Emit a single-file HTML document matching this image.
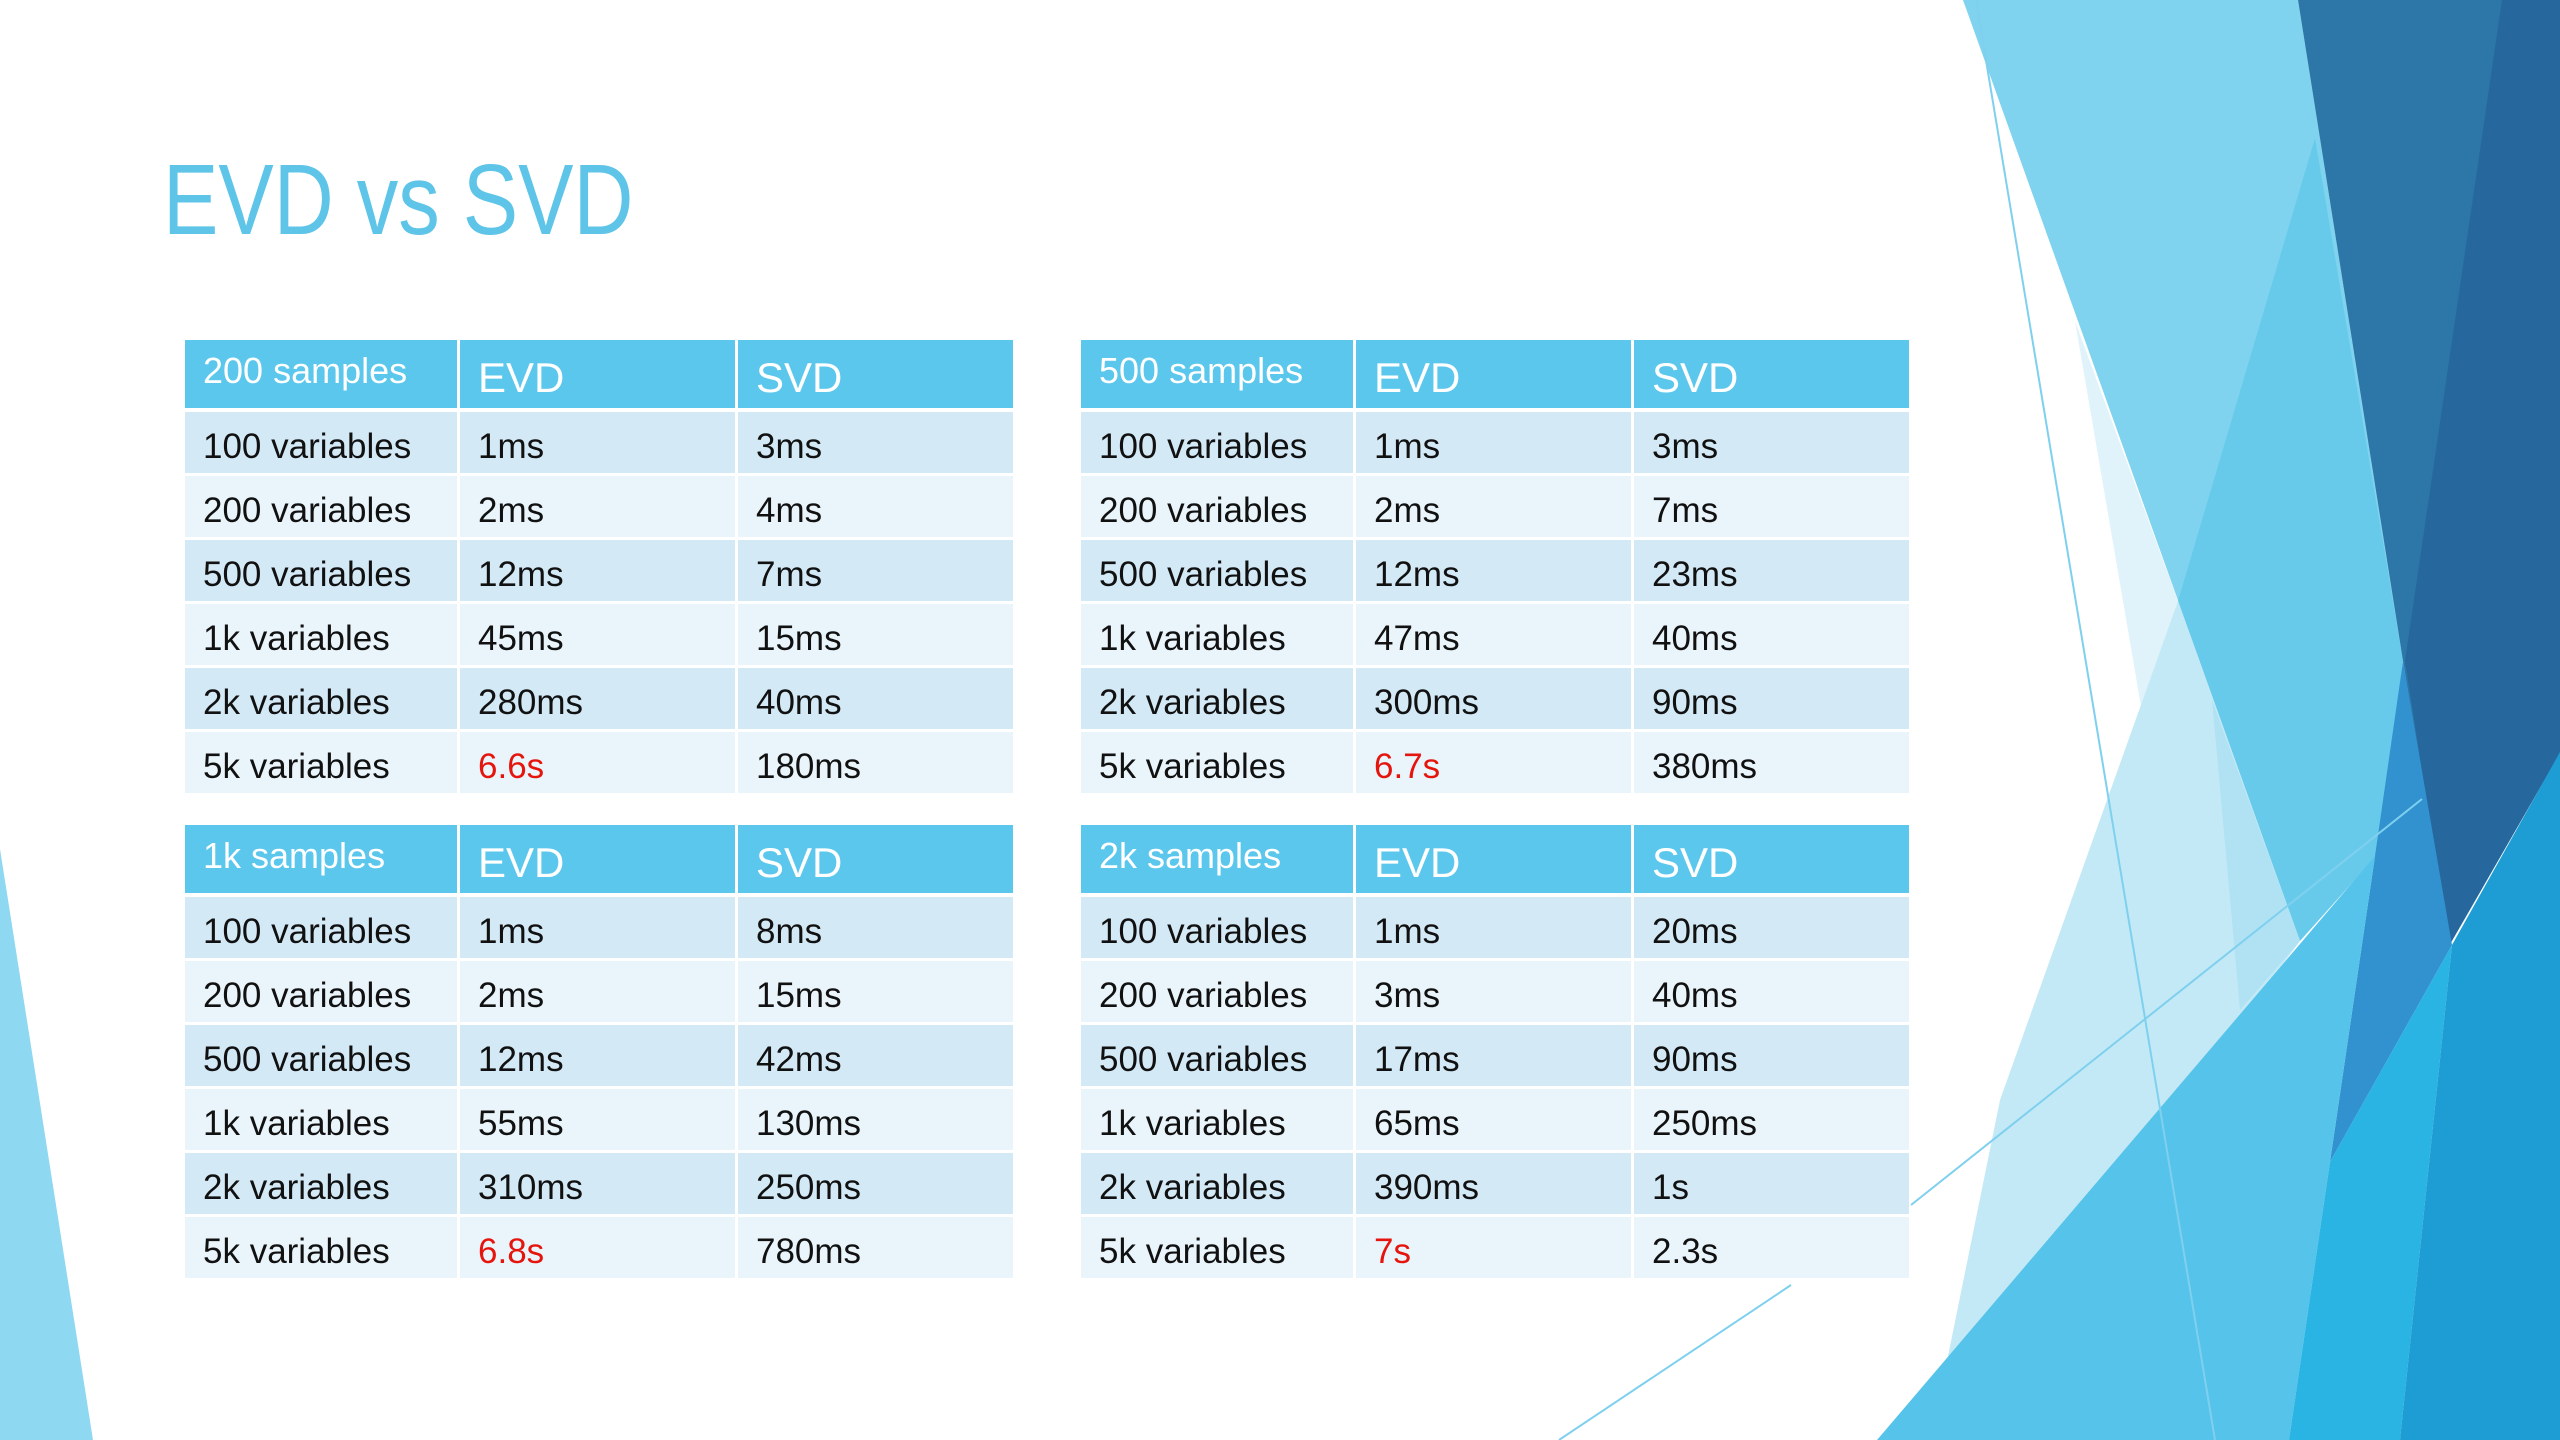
<!DOCTYPE html>
<html><head><meta charset="utf-8"><style>
body{margin:0;width:2560px;height:1440px;overflow:hidden;background:#fff;position:relative;font-family:"Liberation Sans","DejaVu Sans",sans-serif}
#bg{position:absolute;left:0;top:0}
.title{position:absolute;left:163px;top:150px;font-size:100px;color:#5ec4e8;transform:scaleX(0.83);transform-origin:left top;white-space:nowrap;line-height:1}
.cell{position:absolute;box-sizing:border-box;display:flex;align-items:center;padding-left:18px;padding-top:8px;white-space:nowrap;color:#111;font-size:35px}
.hd{background:#5bc7ec;color:#fff}
.r0{background:#d3e9f6}.r1{background:#e9f5fb}
.red{color:#e5140d}
</style></head><body>
<svg id="bg" width="2560" height="1440" viewBox="0 0 2560 1440">
<polygon points="0,849 93,1440 0,1440" fill="#8fd8f1"/>
<polygon points="1963,0 2298,0 2403,661 2300,941" fill="#7fd3ef"/>
<polygon points="2315,138 2403,661 2378,854 2300,941 2178,601" fill="#68caeb"/>
<polygon points="2075,321 2178,601 2142,712" fill="#e0f3fa"/>
<polygon points="2178,601 2300,941 1931,1440 2000,1100" fill="#c4e9f6"/>
<polygon points="2212,700 2300,941 2240,1010" fill="#b0e2f4"/>
<polygon points="2298,0 2560,0 2560,753 2449,946 2403,661" fill="#2c76a8"/>
<polygon points="2502,0 2560,0 2560,753 2449,946 2405,661" fill="#26689e"/>
<polygon points="2403,661 2452,945 2330,1162 2375,856" fill="#3192cf"/>
<polygon points="1877,1440 2375,856 2330,1162 2289,1440" fill="#56c3ea"/>
<polygon points="2330,1162 2452,945 2400,1440 2289,1440" fill="#2ab4e3"/>
<polygon points="2452,945 2560,752 2560,1440 2400,1440" fill="#1e9dd4"/>
<line x1="1976" y1="0" x2="2215" y2="1440" stroke="#7fd0ee" stroke-width="2"/>
<line x1="1911" y1="1205" x2="2422" y2="799" stroke="#7fd0ee" stroke-width="2"/>
<line x1="1559" y1="1440" x2="1791" y2="1285" stroke="#7fd0ee" stroke-width="2"/>
</svg>
<div class="title">EVD vs SVD</div>
<div id="tables"></div>
<script>
const rowLabels=["100 variables","200 variables","500 variables","1k variables","2k variables","5k variables"];
const tableTitles=["200 samples","500 samples","1k samples","2k samples"];
const evd200=["1ms","2ms","12ms","45ms","280ms","6.6s"];
const svd200=["3ms","4ms","7ms","15ms","40ms","180ms"];
const evd500=["1ms","2ms","12ms","47ms","300ms","6.7s"];
const svd500=["3ms","7ms","23ms","40ms","90ms","380ms"];
const evd1k=["1ms","2ms","12ms","55ms","310ms","6.8s"];
const svd1k=["8ms","15ms","42ms","130ms","250ms","780ms"];
const evd2k=["1ms","3ms","17ms","65ms","390ms","7s"];
const svd2k=["20ms","40ms","90ms","250ms","1s","2.3s"];
const evdAll=[evd200,evd500,evd1k,evd2k];
const svdAll=[svd200,svd500,svd1k,svd2k];
const root=document.getElementById('tables');
const lefts=[185,1081,185,1081], tops=[340,340,825,825];
const colW=[275,278,275];
function cell(x,y,w,h,txt,cls,name){
  const d=document.createElement('div');
  d.className='cell '+cls;
  d.style.left=x+'px';d.style.top=y+'px';d.style.width=w+'px';d.style.height=h+'px';
  d.textContent=txt;
  
  
  root.appendChild(d);return d;
}
tableTitles.forEach((t,ti)=>{
  const x0=lefts[ti], y0=tops[ti];
  const xs=[x0,x0+colW[0],x0+colW[0]+colW[1]];
  const hh=70, rh=64;
  const h1=cell(xs[0],y0,colW[0]-3,hh-2,t,'hd','table-header-title');h1.style.fontSize='36px';h1.style.paddingTop='0';h1.style.paddingBottom='6px';
  const h2=cell(xs[1],y0,colW[1]-3,hh-2,'EVD','hd','table-header-evd');h2.style.fontSize='42px';
  const h3=cell(xs[2],y0,colW[2],hh-2,'SVD','hd','table-header-svd');h3.style.fontSize='42px';
  rowLabels.forEach((lab,ri)=>{
    const y=y0+hh+ri*rh+2;
    const rc='r'+(ri%2);
    cell(xs[0],y,colW[0]-3,rh-3,lab,rc,'row-label');
    const e=cell(xs[1],y,colW[1]-3,rh-3,evdAll[ti][ri],rc,'evd-value');
    if(ri===5)e.classList.add('red');
    cell(xs[2],y,colW[2],rh-3,svdAll[ti][ri],rc,'svd-value');
  });
});
</script>
</body></html>
